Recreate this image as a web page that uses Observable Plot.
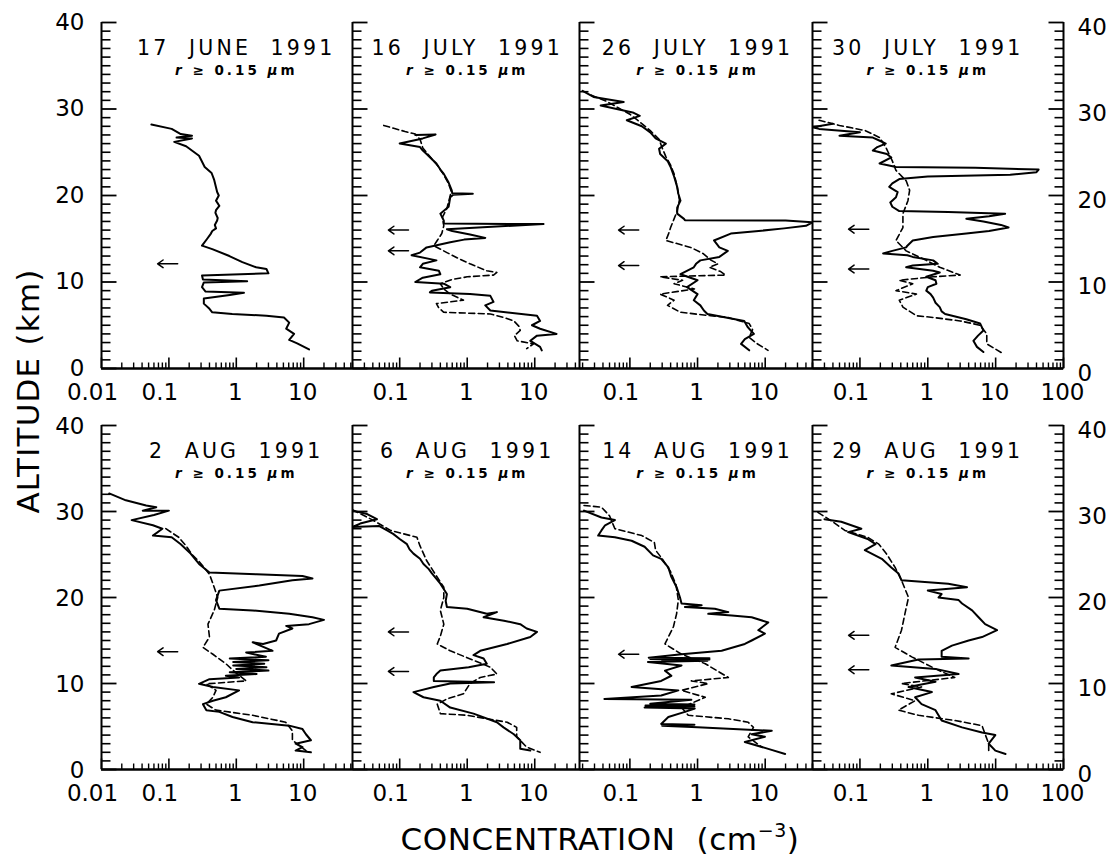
<!DOCTYPE html>
<html><head><meta charset="utf-8">
<script src="https://cdn.jsdelivr.net/npm/d3@7"></script>
<script src="https://cdn.jsdelivr.net/npm/@observablehq/plot@0.6"></script>
<style>
body{margin:0;background:#fff;}
#chart{position:relative;width:1112px;height:858px;font-family:"DejaVu Sans",sans-serif;color:#000;overflow:hidden;background:#fff}
#chart svg{position:absolute}
.lab{position:absolute;font-size:31px;line-height:1;white-space:nowrap}
</style></head>
<body><div id="chart"></div>
<script>
// ---- data ----
const dates = ["17  JUNE  1991","16  JULY  1991","26  JULY  1991","30  JULY  1991",
               "2  AUG  1991","6  AUG  1991","14  AUG  1991","29  AUG  1991"];
const subtitle = "r ≥ 0.15 μm";
const xDomains = [[0.01,53],[0.02,46],[0.018,50],[0.02,100]];
const xTickLabels = [["0.01","0.1","1","10"],["0.1","1","10"],["0.1","1","10"],["0.1","1","10","100"]];
const yTickLabels = ["0","10","20","30","40"];
const tropopause = [[12.1],[16.0,13.6],[16.0,11.9],[16.1,11.5],[13.7],[16.0,11.4],[13.4],[15.6,11.6]];

// profiles: [altitude km, concentration cm^-3]
const jun17Solid = [[28.2,0.055],[27.7,0.11],[27.1,0.15],[26.9,0.22],[26.7,0.13],[26.6,0.22],[26.2,0.12],[25.7,0.18],[24.6,0.28],[23.3,0.34],[22.6,0.43],[21.8,0.47],[20.4,0.52],[20.0,0.55],[19.4,0.5],[19.0,0.54],[18.8,0.56],[18.3,0.5],[18.0,0.49],[17.4,0.53],[17.1,0.52],[16.6,0.48],[16.2,0.5],[15.9,0.44],[15.6,0.42],[15.0,0.37],[14.2,0.31],[13.8,0.44],[13.0,0.79],[12.3,1.23],[11.7,1.97],[11.5,2.8],[11.0,3.0],[10.75,0.31],[10.3,0.32],[10.1,1.45],[9.95,0.33],[9.4,0.31],[8.9,0.35],[8.75,1.3],[8.5,0.8],[8.1,0.33],[7.5,0.33],[6.9,0.4],[6.5,0.44],[6.3,0.87],[6.1,2.8],[5.9,5.1],[5.3,6.1],[4.6,5.5],[4.0,7.2],[3.3,6.1],[2.9,8.0],[2.2,12]];

const jul16Solid = [[27.0,0.17],[27.05,0.34],[26.6,0.22],[26.0,0.10],[25.6,0.2],[25.2,0.22],[24.8,0.25],[24.2,0.3],[23.7,0.35],[23.0,0.4],[22.5,0.45],[21.5,0.53],[20.6,0.59],[20.25,0.6],[20.2,1.21],[20.1,0.62],[19.8,0.56],[18.7,0.53],[17.9,0.40],[17.1,0.45],[16.75,0.45],[16.7,13.5],[16.1,0.5],[15.9,0.6],[15.5,1.1],[15.1,1.85],[14.9,0.9],[14.6,0.56],[14.0,0.25],[13.4,0.2],[13.1,0.15],[12.5,0.35],[12.1,0.22],[11.7,0.2],[11.3,0.38],[10.9,0.4],[10.5,0.22],[10.0,0.17],[9.8,0.45],[9.4,0.56],[9.0,0.3],[8.8,0.28],[8.6,1.1],[8.4,2.2],[7.7,2.45],[7.3,1.85],[6.7,2.2],[6.1,10.8],[5.5,12],[5.0,9.1],[4.6,12],[4.0,21],[3.8,10.8],[3.2,8.6],[2.5,12],[2.1,12.7]];
const jul16Dashed = [[28.1,0.058],[27.4,0.12],[27.1,0.17],[26.5,0.2],[25.5,0.22],[24.5,0.28],[23.5,0.36],[22.5,0.44],[21.5,0.52],[20.5,0.58],[19.5,0.54],[18.5,0.5],[17.5,0.43],[16.5,0.45],[15.6,0.42],[14.8,0.36],[14.2,0.32],[13.4,0.5],[12.7,0.75],[12.1,1.1],[11.3,1.95],[11.1,2.75],[10.8,2.45],[10.6,1.0],[10.3,0.6],[9.8,0.4],[9.2,0.45],[8.6,0.56],[7.9,0.88],[7.5,0.35],[7.0,0.38],[6.5,0.45],[6.3,2.2],[5.9,3.5],[5.5,4.9],[4.9,5.8],[4.4,6.1],[3.8,5.0],[3.2,5.5],[2.85,9.6],[2.3,7.6]];

const jul26Solid = [[32.1,0.02],[31.4,0.029],[30.8,0.081],[30.4,0.037],[29.6,0.11],[29.2,0.14],[28.7,0.09],[28.0,0.15],[27.3,0.2],[26.6,0.24],[26.0,0.34],[25.4,0.27],[24.8,0.28],[24.0,0.36],[23.3,0.4],[22.2,0.45],[21.0,0.5],[20.2,0.52],[19.4,0.56],[18.6,0.5],[17.9,0.5],[17.3,0.63],[17.15,0.65],[17.1,20],[16.9,50],[16.5,40],[16.2,19],[15.9,8],[15.6,3.1],[14.8,1.75],[14.0,2.1],[13.6,2.8],[12.9,2.1],[12.5,1.1],[12.1,0.95],[11.7,0.88],[10.9,0.56],[10.2,1.0],[9.4,0.7],[8.6,1.0],[7.9,0.88],[7.3,1.1],[6.7,1.24],[6.3,1.4],[5.5,4.9],[4.8,5.5],[4.0,6.8],[3.4,5.0],[2.85,4.4],[2.1,5.8]];
const jul26Dashed = [[31.6,0.027],[30.9,0.045],[30.2,0.065],[29.4,0.1],[28.5,0.14],[27.5,0.2],[26.5,0.27],[25.5,0.3],[24.5,0.34],[23.5,0.4],[22.5,0.45],[21.0,0.5],[19.5,0.54],[18.2,0.5],[17.3,0.45],[16.3,0.4],[15.5,0.37],[14.8,0.34],[14.0,0.79],[13.3,1.2],[12.5,1.6],[12.1,2.0],[11.7,1.5],[11.2,2.2],[10.8,2.6],[10.6,0.28],[10.2,0.6],[9.8,0.45],[9.2,0.9],[8.6,0.28],[7.9,0.45],[7.3,0.36],[6.5,0.56],[6.1,1.56],[5.9,2.8],[5.2,5.8],[4.5,6.5],[3.6,5.8],[2.9,7.5],[2.1,11]];

const jul30Solid = [[28.3,0.04],[27.9,0.02],[27.7,0.025],[27.3,0.1],[26.9,0.05],[26.7,0.155],[26.3,0.2],[26.0,0.24],[25.6,0.18],[25.2,0.155],[24.8,0.25],[24.4,0.29],[23.7,0.195],[23.3,0.34],[23.2,5],[23.0,43],[22.7,40],[22.4,16.4],[22.2,1],[21.9,0.38],[21.4,0.3],[21.0,0.27],[20.4,0.36],[19.8,0.34],[19.2,0.28],[18.7,0.3],[18.2,0.38],[18.1,2],[17.9,13.8],[17.6,8],[17.3,3.7],[17.0,6.6],[16.6,12],[16.3,15.5],[15.9,8],[15.6,3.7],[15.2,1.2],[14.8,0.6],[14.2,0.5],[14.0,0.48],[13.6,0.3],[13.3,0.22],[13.1,0.5],[12.9,0.6],[12.5,1.2],[12.1,1.4],[11.9,0.6],[11.7,0.48],[11.3,1.2],[11.1,1.5],[10.6,0.95],[10.2,1.3],[9.8,1.34],[9.4,1.0],[9.0,0.95],[8.6,1.1],[8.2,1.2],[7.6,1.3],[7.1,1.5],[6.6,1.6],[6.3,1.8],[5.7,3.7],[5.2,5.9],[4.4,6.6],[3.8,5.5],[3.2,4.7],[2.5,5.3],[1.9,6.6]];
const jul30Dashed = [[28.7,0.025],[28.1,0.05],[27.5,0.12],[26.7,0.195],[25.6,0.24],[24.0,0.3],[22.9,0.34],[21.7,0.48],[20.6,0.54],[19.4,0.51],[17.9,0.43],[16.3,0.43],[14.8,0.34],[13.6,0.48],[12.5,0.95],[11.7,1.5],[10.8,3.0],[10.6,1.2],[10.2,0.38],[9.8,0.6],[9.0,0.34],[8.6,0.68],[7.9,0.38],[7.1,0.43],[6.1,0.68],[5.9,1.2],[5.5,3.0],[5.0,5.9],[4.0,7.4],[2.85,7.4],[1.7,13]];

const aug2Solid = [[32.1,0.013],[31.3,0.023],[30.7,0.046],[30.5,0.065],[30.1,0.041],[30.1,0.1],[29.6,0.06],[29.0,0.028],[28.4,0.058],[28.0,0.08],[27.2,0.058],[27.0,0.11],[26.2,0.15],[25.1,0.21],[23.9,0.28],[22.9,0.40],[22.7,2],[22.5,9.6],[22.2,13.5],[22.0,6.8],[21.4,2.2],[20.8,0.56],[19.7,0.5],[18.7,0.56],[18.5,1.75],[18.1,6.1],[17.7,13.5],[17.4,20],[16.9,12],[16.7,5.5],[16.4,6.8],[15.8,4.3],[15.0,3.9],[14.6,2.5],[14.8,1.75],[13.8,3.45],[13.6,1.4],[13.1,2.75],[12.9,0.8],[12.7,3.0],[12.5,0.9],[12.3,2.6],[12.1,0.9],[11.9,2.8],[11.7,1.0],[11.5,3.0],[11.3,0.8],[11.1,2.0],[10.9,0.7],[10.7,1.1],[10.5,0.4],[9.96,0.28],[9.6,0.45],[9.2,1.1],[8.4,0.7],[8.0,0.45],[7.6,0.32],[6.9,0.36],[6.7,0.56],[6.1,0.88],[5.5,1.75],[5.1,6.1],[4.7,9.6],[4.1,10.8],[3.4,12.8],[3.0,7.6],[2.6,9.6],[2.2,7.6],[2.0,12.8]];
const aug2Dashed = [[28.0,0.09],[27.0,0.14],[26.0,0.18],[25.0,0.22],[24.2,0.28],[22.7,0.40],[21.6,0.45],[20.0,0.53],[18.5,0.47],[16.9,0.38],[15.4,0.40],[14.2,0.32],[13.4,0.45],[12.3,0.7],[11.2,1.0],[10.3,1.4],[9.96,0.36],[9.2,0.5],[8.4,0.45],[7.6,0.36],[6.9,0.5],[6.3,1.75],[5.5,5.4],[4.5,6.8],[3.4,6.8],[2.2,10.8]];

const aug6Solid = [[30.1,0.02],[29.7,0.033],[29.1,0.046],[28.6,0.026],[28.2,0.02],[28.3,0.05],[27.8,0.065],[27.4,0.08],[26.8,0.1],[26.2,0.128],[25.6,0.14],[25.1,0.16],[24.5,0.2],[23.9,0.225],[23.3,0.27],[22.8,0.3],[21.6,0.4],[20.4,0.5],[19.6,0.48],[18.9,0.5],[18.7,1.0],[18.1,1.95],[18.3,2.75],[17.7,1.75],[17.3,3.5],[16.9,6.1],[16.4,7.6],[16.0,10.8],[15.4,8.6],[14.6,3.9],[13.8,1.56],[13.3,1.24],[12.9,1.75],[12.3,1.95],[11.9,1.05],[11.5,0.4],[11.1,0.35],[10.7,0.32],[10.3,0.32],[10.15,2.5],[10.0,0.56],[9.6,0.32],[9.0,0.16],[8.4,0.225],[8.0,0.4],[7.2,0.56],[6.5,1.24],[5.5,2.75],[4.9,3.45],[4.1,4.9],[3.4,6.1],[2.4,6.1],[2.2,8.6]];
const aug6Dashed = [[30.2,0.02],[29.0,0.04],[27.8,0.073],[27.0,0.18],[26.0,0.2],[24.3,0.25],[22.5,0.35],[21.2,0.45],[20.0,0.45],[18.5,0.4],[16.9,0.45],[15.5,0.4],[14.6,0.36],[13.8,0.56],[12.7,1.24],[11.9,2.2],[11.1,2.75],[10.7,1.56],[10.0,1.1],[8.8,0.88],[8.2,0.5],[7.6,0.36],[6.5,0.4],[6.3,1.0],[5.5,3.9],[4.9,5.4],[3.8,5.4],[2.6,7.6],[2.0,12]];

const aug14Solid = [[30.1,0.021],[29.3,0.038],[29.0,0.06],[28.4,0.043],[27.8,0.038],[27.2,0.034],[27.0,0.06],[26.6,0.106],[25.9,0.165],[24.9,0.22],[24.5,0.29],[23.5,0.37],[22.4,0.41],[21.2,0.49],[20.0,0.55],[19.3,0.58],[19.1,1.15],[18.9,0.65],[18.7,1.8],[18.3,2.85],[18.1,1.44],[17.9,3.2],[17.7,6.3],[17.1,11.1],[16.2,7.9],[15.8,9.9],[15.0,6.3],[14.6,5.0],[13.8,2.27],[13.4,0.58],[13.0,0.19],[12.95,1.5],[12.85,0.2],[12.8,1.5],[12.7,0.3],[12.65,1.4],[12.5,0.185],[12.1,0.58],[11.5,0.33],[10.9,0.41],[10.3,0.29],[9.6,0.106],[9.2,0.52],[8.6,0.29],[8.2,0.042],[8.1,0.81],[7.65,0.2],[7.55,0.9],[7.45,0.17],[7.35,0.9],[7.2,0.165],[7.1,0.91],[6.7,0.65],[6.1,0.37],[5.3,0.29],[5.2,0.9],[5.1,0.3],[4.9,1.0],[4.5,12.5],[4.1,6.3],[3.8,9.9],[3.2,5.0],[2.4,11.1],[1.8,19.7]];
const aug14Dashed = [[30.7,0.021],[30.5,0.038],[29.5,0.05],[28.0,0.06],[27.2,0.15],[26.4,0.23],[25.5,0.24],[24.5,0.3],[23.0,0.4],[21.5,0.48],[19.7,0.52],[18.1,0.49],[16.6,0.44],[14.6,0.33],[13.4,0.58],[12.3,1.3],[10.7,2.85],[10.3,0.81],[10.0,1.44],[9.2,0.58],[8.4,1.3],[7.2,0.58],[6.3,0.73],[5.9,2.85],[5.5,5.6],[4.9,6.7],[3.8,5.6],[2.6,8.9]];

const aug29Solid = [[29.1,0.03],[28.8,0.053],[28.0,0.105],[27.6,0.067],[26.8,0.13],[26.2,0.17],[25.5,0.118],[24.5,0.21],[23.5,0.29],[22.8,0.37],[22.0,0.41],[21.6,2.0],[21.2,3.8],[20.8,1.0],[20.4,1.6],[20.0,1.44],[19.7,2.85],[19.3,3.2],[18.5,4.5],[17.7,5.6],[16.9,7.0],[16.2,10.5],[15.4,6.3],[15.0,4.0],[14.4,2.27],[13.8,1.6],[13.1,1.6],[12.9,4.0],[12.8,0.73],[12.1,0.29],[11.7,1.3],[11.1,2.85],[10.7,0.65],[10.2,1.3],[9.6,0.52],[9.0,1.15],[8.4,0.65],[7.6,0.81],[6.9,1.3],[5.7,1.6],[4.9,3.2],[4.3,6.3],[4.0,9.9],[3.0,7.9],[2.2,9.9],[1.8,14]];
const aug29Dashed = [[29.9,0.024],[28.8,0.04],[27.8,0.06],[27.0,0.13],[26.2,0.19],[25.0,0.25],[23.5,0.33],[22.0,0.41],[20.0,0.52],[18.1,0.46],[16.2,0.41],[14.2,0.33],[13.1,0.58],[11.7,1.3],[10.7,2.5],[10.0,0.41],[9.6,0.81],[8.8,0.29],[8.0,0.65],[6.9,0.37],[6.3,0.73],[5.7,2.5],[5.1,6.3],[4.1,7.0],[3.0,7.9],[2.2,7.9]];

const solids = [jun17Solid, jul16Solid, jul26Solid, jul30Solid, aug2Solid, aug6Solid, aug14Solid, aug29Solid];
const dasheds = [[], jul16Dashed, jul26Dashed, jul30Dashed, aug2Dashed, aug6Dashed, aug14Dashed, aug29Dashed];

// ---- layout ----
const colX = [101, 352, 579, 812, 1063];
const rowY = [[22, 368], [425, 769]];
const chart = document.getElementById("chart");
const ml = 70, mr = 60, mt = 10, mb = 45;

function panel(i) {
  const col = i % 4, row = Math.floor(i / 4);
  const x0 = colX[col], x1 = colX[col + 1];
  const [y0, y1] = rowY[row];
  const W = x1 - x0, H = y1 - y0;
  const dom = xDomains[col];
  const xMinor = [], xMajor = [];
  for (let e = -2; e <= 2; e++) for (let m = 1; m <= 9; m++) {
    const v = +(m * Math.pow(10, e)).toPrecision(6);
    if (v >= dom[0] * 0.999 && v <= dom[1] * 1.001) (m === 1 ? xMajor : xMinor).push(v);
  }
  const yAll = d3.range(0, 41);
  const yMajor = yAll.filter(d => d % 10 === 0);
  const yMinor = yAll.filter(d => d % 10 !== 0);
  // tick lengths in pixels, expressed through the scales
  const kmPerPx = 40 / H;
  const decPerPx = Math.log10(dom[1] / dom[0]) / W;
  const inL = px => dom[0] * Math.pow(10, px * decPerPx);
  const inR = px => dom[1] / Math.pow(10, px * decPerPx);

  const labs = xTickLabels[col];
  const marks = [
    // inward ticks (drawn as link paths) and frame
    Plot.link(xMinor, {x1: d => d, x2: d => d, y1: () => 0, y2: () => 6 * kmPerPx, strokeWidth: 1.4}),
    Plot.link(xMajor, {x1: d => d, x2: d => d, y1: () => 0, y2: () => 11 * kmPerPx, strokeWidth: 1.6}),
    Plot.link(yMinor, {y1: d => d, y2: d => d, x1: () => dom[0], x2: () => inL(9), strokeWidth: 1.6}),
    Plot.link(yMajor, {y1: d => d, y2: d => d, x1: () => dom[0], x2: () => inL(15), strokeWidth: 1.8}),
    Plot.ruleX([dom[0]], {strokeWidth: 2}),
    Plot.ruleY([0], {strokeWidth: 2.6}),
    // labels
    Plot.text(labs.filter(d => +d < 1), {x: d => +d, text: d => d, frameAnchor: "bottom", lineAnchor: "top", dy: 15, dx: -9, fontSize: 23}),
    Plot.text(labs.filter(d => +d >= 1), {x: d => +d, text: d => d, frameAnchor: "bottom", lineAnchor: "top", dy: 15, dx: -1, fontSize: 23}),
    Plot.text([dates[i]], {x: () => 1, text: d => d, frameAnchor: "top", dy: 18, fontSize: 20.5}),
    Plot.text([subtitle], {x: () => 1, text: d => d, frameAnchor: "top", dy: 43, fontSize: 13.5, fontWeight: "bold"}),
    // tropopause arrows and profiles
    Plot.arrow(tropopause[i], {x1: () => 0.135, x2: () => 0.068, y1: d => d, y2: d => d, strokeWidth: 1.5, headLength: 7, headAngle: 70}),
    Plot.line(dasheds[i], {x: d => d[1], y: d => d[0], strokeWidth: 1.6, strokeDasharray: "6,3.5", clip: true}),
    Plot.line(solids[i], {x: d => d[1], y: d => d[0], strokeWidth: 2, clip: true})
  ];
  if (col === 0) marks.push(Plot.text(yTickLabels, {y: d => +d, text: d => d, frameAnchor: "left", textAnchor: "end", dx: -17, dy: row ? 1 : 0, fontSize: 23}));
  if (col === 3) {
    marks.push(Plot.ruleX([dom[1]], {strokeWidth: 2}));
    marks.push(Plot.link(yMinor, {y1: d => d, y2: d => d, x1: () => inR(9), x2: () => dom[1], strokeWidth: 1.6}));
    marks.push(Plot.link(yMajor, {y1: d => d, y2: d => d, x1: () => inR(15), x2: () => dom[1], strokeWidth: 1.8}));
    marks.push(Plot.text(yTickLabels, {y: d => +d, text: d => d, frameAnchor: "right", textAnchor: "start", dx: 14, dy: 5, fontSize: 23}));
  }
  const svg = Plot.plot({
    width: W + ml + mr, height: H + mt + mb,
    marginLeft: ml, marginRight: mr, marginTop: mt, marginBottom: mb,
    x: {type: "log", domain: dom, axis: null},
    y: {domain: [0, 40], axis: null},
    style: {background: "transparent", overflow: "visible", fontFamily: "DejaVu Sans, sans-serif", color: "black"},
    marks
  });
  const texts = d3.select(svg).selectAll("text");
  texts.filter(function () { return this.textContent === dates[i]; }).attr("letter-spacing", 3.2);
  texts.filter(function () { return this.textContent === subtitle; }).each(function () {
    const t = d3.select(this).attr("letter-spacing", 3);
    t.text(null);
    t.append("tspan").attr("font-style", "italic").text("r");
    t.append("tspan").text(" ≥ 0.15 ");
    t.append("tspan").attr("font-style", "italic").text("μ");
    t.append("tspan").text("m");
  });
  svg.style.left = (x0 - ml) + "px";
  svg.style.top = (y0 - mt) + "px";
  chart.appendChild(svg);
}
for (let i = 0; i < 8; i++) panel(i);

const yl = document.createElement("div");
yl.className = "lab";
yl.style.letterSpacing = "1.2px";
yl.textContent = "ALTITUDE  (km)";
yl.style.left = "28px"; yl.style.top = "391px";
yl.style.transform = "translate(-50%,-50%) rotate(-90deg)";
chart.appendChild(yl);

const xl = document.createElement("div");
xl.className = "lab";
xl.style.letterSpacing = "0.6px";
xl.innerHTML = 'CONCENTRATION&nbsp; (cm<span style="font-size:19px;position:relative;top:-13px">−3</span>)';
xl.style.left = "600px"; xl.style.top = "824px";
xl.style.transform = "translateX(-50%)";
chart.appendChild(xl);
</script></body></html>
